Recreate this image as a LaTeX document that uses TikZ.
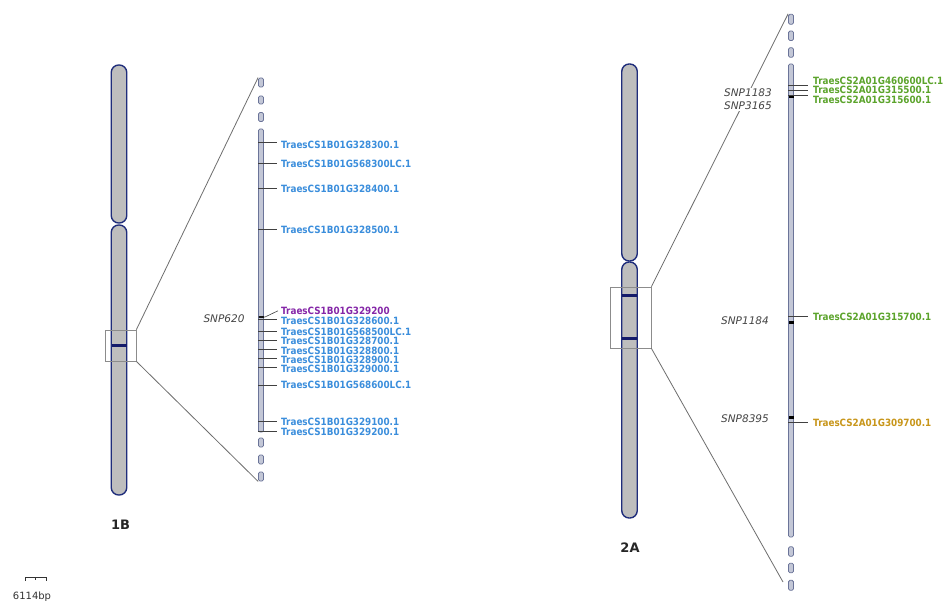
\documentclass[tikz,border=0pt]{standalone}
\usepackage{fontspec}
\setmainfont{DejaVu Sans}
\newfontfamily\genefont[FakeStretch=0.88]{DejaVu Sans}
\usetikzlibrary{calc}
\definecolor{chromedge}{HTML}{1F2D7B}
\definecolor{chromfill}{HTML}{BEBEBE}
\definecolor{bandcol}{HTML}{141B6B}
\definecolor{segfill}{HTML}{C3C7D6}
\definecolor{segedge}{HTML}{6B7499}
\definecolor{linegray}{HTML}{6E6E6E}
\definecolor{boxgray}{HTML}{8C8C8C}
\definecolor{geneblue}{HTML}{3B8EDC}
\definecolor{genepurple}{HTML}{8526A8}
\definecolor{genegreen}{HTML}{5CA42C}
\definecolor{geneorange}{HTML}{C8961A}
\definecolor{snpgray}{HTML}{444444}
\begin{document}
\begin{tikzpicture}[x=1pt,y=-1pt,
  chrom/.style={draw=chromedge,fill=chromfill,line width=1.4pt,rounded corners=7.4pt,
    minimum width=15.5pt,inner sep=0pt},
  seg/.style={draw=segedge,fill=segfill,line width=0.8pt,rounded corners=1.4pt,
    minimum width=5pt,inner sep=0pt},
  band/.style={draw=bandcol,line width=3pt},
  zoomline/.style={draw=linegray,line width=0.8pt},
  zoombox/.style={draw=boxgray,line width=0.8pt},
  tickline/.style={draw=black!75,line width=0.6pt},
  snpmark/.style={fill=black,draw=none},
  gene/.style={font=\genefont\bfseries\fontsize{10}{11}\selectfont,anchor=west,inner sep=0pt},
  snp/.style={font=\itshape\fontsize{10.5}{12.6}\selectfont,text=snpgray,fill=white,
    inner sep=1pt,align=center},
  chrname/.style={font=\bfseries\fontsize{13}{14}\selectfont,text=black!85},
]
\useasboundingbox[fill=white] (0,0) rectangle (944,601);

% ---------------- chromosome 1B ----------------
\node[chrom,minimum height=158pt] (c1top) at (119,144) {};
\node[chrom,minimum height=270pt] (c1bot) at (119,360) {};
\draw[band] (111.5,345) -- (126.5,345);
\node[zoombox,minimum width=31pt,minimum height=31pt,inner sep=0pt] (b1box) at (120.5,345.5) {};
\node[chrname] (n1B) at (120.5,525) {1B};

% zoomed segment of 1B
\node[seg,minimum height=9pt]   (z1top) at (261,82.5) {};
\node[seg,minimum height=8pt]   (z1s2)  at (261,100) {};
\node[seg,minimum height=9pt]   (z1s3)  at (261,117) {};
\node[seg,minimum height=303pt] (z1bar) at (261,280.5) {};
\node[seg,minimum height=9pt]   (z1s4)  at (261,442.5) {};
\node[seg,minimum height=9pt]   (z1s5)  at (261,459.5) {};
\node[seg,minimum height=9pt]   (z1bot) at (261,476.5) {};
\fill[snpmark] (258.5,315.8) rectangle (263.5,318.3);

\draw[zoomline] (b1box.north east) -- (z1top.north west);
\draw[zoomline] (b1box.south east) -- (z1bot.south west);

% gene ticks and labels of 1B
\foreach \ly/\ty/\nm [count=\i] in {
  142/144.5/TraesCS1B01G328300.1,
  163.3/164.2/TraesCS1B01G568300LC.1,
  188.3/189/TraesCS1B01G328400.1,
  229/229.7/TraesCS1B01G328500.1,
  319.5/320.7/TraesCS1B01G328600.1,
  331/331.8/TraesCS1B01G568500LC.1,
  340/341/TraesCS1B01G328700.1,
  349.3/350.5/TraesCS1B01G328800.1,
  358.3/359.8/TraesCS1B01G328900.1,
  367.3/368.7/TraesCS1B01G329000.1,
  385/385.2/TraesCS1B01G568600LC.1,
  421.7/421.9/TraesCS1B01G329100.1,
  431.5/432.2/TraesCS1B01G329200.1}{
  \node[gene,text=geneblue] (ga\i) at (281,\ty) {\nm};
  \draw[tickline] (z1bar.west |- 0,\ly) -- (277,\ly);
}
\node[gene,text=genepurple] (gp) at (281,310.8) {TraesCS1B01G329200};
\draw[tickline] (z1bar.west |- 0,317) -- (265,317) -- ([xshift=-3pt]gp.west);

\node[snp] (s620) at (224,319) {SNP620};

% ---------------- chromosome 2A ----------------
\node[chrom,minimum height=197pt] (c2top) at (629.5,162.5) {};
\node[chrom,minimum height=256pt] (c2bot) at (629.5,390) {};
\draw[band] (622,296) -- (637,296);
\draw[band] (622,338) -- (637,338);
\node[zoombox,minimum width=41pt,minimum height=61pt,inner sep=0pt] (b2box) at (630.5,317.5) {};
\node[chrname] (n2A) at (630,548) {2A};

% zoomed segment of 2A
\node[seg,minimum height=10pt]  (z2top) at (791,19.3) {};
\node[seg,minimum height=9.5pt] (z2s2)  at (791,35.8) {};
\node[seg,minimum height=9.5pt] (z2s3)  at (791,52.5) {};
\node[seg,minimum height=473pt] (z2bar) at (791,300.5) {};
\node[seg,minimum height=9.5pt] (z2s4)  at (791,551.5) {};
\node[seg,minimum height=9.5pt] (z2s5)  at (791,568) {};
\node[seg,minimum height=10pt]  (z2bot) at (791,585.3) {};
\fill[snpmark] (788.5,95.2) rectangle (793.5,97.7);
\fill[snpmark] (788.5,321) rectangle (793.5,323.5);
\fill[snpmark] (788.5,416) rectangle (793.5,418.5);

\coordinate (z2end) at (783,582);
\draw[zoomline] (b2box.north east) -- (z2top.north west);
\draw[zoomline] (b2box.south east) -- (z2end);

% gene ticks and labels of 2A
\foreach \ly/\ty/\nm/\cl [count=\i] in {
  85.8/81/TraesCS2A01G460600LC.1/genegreen,
  90.2/90.3/TraesCS2A01G315500.1/genegreen,
  95/99.5/TraesCS2A01G315600.1/genegreen,
  316/316.7/TraesCS2A01G315700.1/genegreen,
  422.3/423.3/TraesCS2A01G309700.1/geneorange}{
  \node[gene,text=\cl] (gb\i) at (813,\ty) {\nm};
  \draw[tickline] (z2bar.west |- 0,\ly) -- (808,\ly);
}

\node[snp] (s1183) at (748,99.3) {SNP1183\\SNP3165};
\node[snp] (s1184) at (745,320.8) {SNP1184};
\node[snp] (s8395) at (745,419) {SNP8395};

% ---------------- scale bar ----------------
\coordinate (sbl) at (25.7,577.3);
\coordinate (sbr) at (46,577.3);
\draw[black!80,line width=0.8pt] ([yshift=-3.3pt]sbl) -- (sbl) -- (sbr) -- ([yshift=-3.3pt]sbr);
\draw[black!80,line width=0.8pt] ($(sbl)!0.5!(sbr)$) -- +(0,2.3);
\node[font=\fontsize{10}{12}\selectfont,text=black!80] (sblabel) at (32,596.5) {6114bp};
\end{tikzpicture}
\end{document}
